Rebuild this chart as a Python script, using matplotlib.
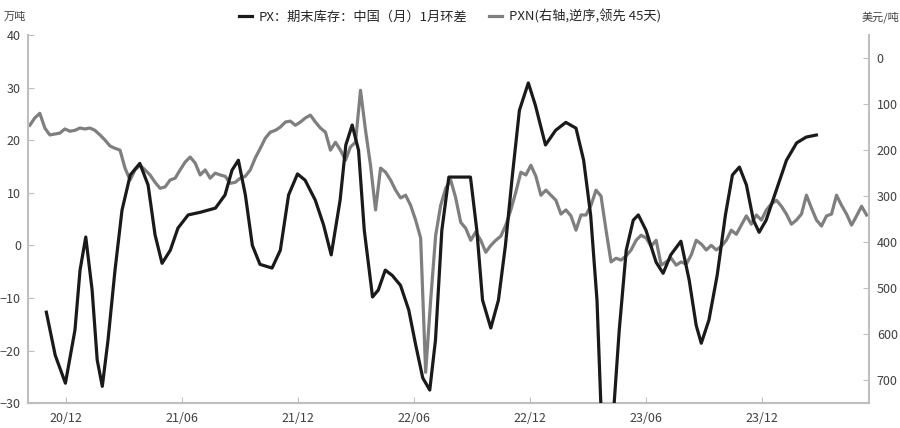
import numpy as np
import pandas as pd
import matplotlib
matplotlib.use("Agg")
import matplotlib.pyplot as plt
import matplotlib.dates as mdates

plt.rcParams['font.family'] = ['Noto Sans CJK SC', 'DejaVu Sans']

# PX: 期末库存 中国(月) 1月环差, 万吨 (left axis)
px_dates = ["2020-10-31", "2020-11-14", "2020-11-30", "2020-12-15", "2020-12-23", "2021-01-01",
            "2021-01-11", "2021-01-19", "2021-01-27", "2021-02-05", "2021-02-16", "2021-02-27",
            "2021-03-12", "2021-03-27", "2021-04-09", "2021-04-20", "2021-05-01", "2021-05-14",
            "2021-05-26", "2021-06-11", "2021-06-30", "2021-07-24", "2021-08-08", "2021-08-19",
            "2021-08-29", "2021-09-09", "2021-09-20", "2021-10-02", "2021-10-21", "2021-11-03",
            "2021-11-16", "2021-11-30", "2021-12-12", "2021-12-28", "2022-01-10", "2022-01-22",
            "2022-02-05", "2022-02-14", "2022-02-24", "2022-03-06", "2022-03-15", "2022-03-28",
            "2022-04-06", "2022-04-17", "2022-04-28", "2022-05-11", "2022-05-24", "2022-06-04",
            "2022-06-15", "2022-06-26", "2022-07-05", "2022-07-15", "2022-07-26", "2022-08-14",
            "2022-08-29", "2022-09-08", "2022-09-17", "2022-09-30", "2022-10-12", "2022-10-23",
            "2022-11-03", "2022-11-14", "2022-11-28", "2022-12-09", "2022-12-25", "2023-01-10",
            "2023-01-26", "2023-02-11", "2023-02-23", "2023-03-06", "2023-03-16", "2023-03-22",
            "2023-04-01", "2023-04-12", "2023-04-20", "2023-05-01", "2023-05-12", "2023-05-20",
            "2023-06-01", "2023-06-17", "2023-06-28", "2023-07-10", "2023-07-26", "2023-08-08",
            "2023-08-19", "2023-08-27", "2023-09-08", "2023-09-21", "2023-10-04", "2023-10-15",
            "2023-10-26", "2023-11-06", "2023-11-17", "2023-11-26", "2023-12-07", "2023-12-23",
            "2024-01-08", "2024-01-24", "2024-02-08", "2024-02-24"]
px_vals = [-12.7, -20.9, -26.2, -16.1, -4.7, 1.6,
           -8.5, -21.8, -26.8, -18.0, -4.7, 6.7,
           13.4, 15.6, 11.5, 2.0, -3.4, -0.9,
           3.3, 5.8, 6.3, 7.1, 9.6, 14.3,
           16.2, 9.6, 0.0, -3.6, -4.3, -0.9,
           9.6, 13.6, 12.4, 8.6, 3.9, -1.8,
           8.6, 19.1, 22.9, 18.1, 2.9, -9.8,
           -8.5, -4.7, -5.7, -7.6, -12.3, -19.0,
           -25.2, -27.5, -18.0, 2.9, 13.0, 13.0,
           13.0, 2.9, -10.4, -15.7, -10.4, 0.0,
           13.4, 25.7, 30.9, 26.7, 19.1, 21.9,
           23.4, 22.3, 16.2, 5.8, -10.4, -30.0,
           -55.0, -30.0, -16.1, -0.9, 4.8, 5.8,
           2.9, -3.2, -5.3, -1.8, 0.8, -6.6,
           -15.2, -18.6, -14.2, -5.7, 5.8, 13.4,
           14.9, 11.5, 4.8, 2.5, 4.8, 10.5,
           16.2, 19.5, 20.6, 21.0]

# PXN (右轴, 逆序, 领先45天), 美元/吨, read on a regular date grid
pxn_start, pxn_end = "2020-10-05", "2024-05-13"
pxn_vals = [146, 130, 120, 152, 167, 165, 163, 154, 159, 157, 152, 154, 152, 157, 167, 178,
            191, 196, 200, 239, 265, 243, 233, 243, 254, 270, 283, 280, 265, 261, 243, 226,
            215, 228, 254, 243, 261, 250, 254, 257, 272, 270, 261, 257, 243, 217, 196, 174,
            161, 157, 150, 139, 137, 146, 139, 130, 124, 139, 152, 161, 200, 183, 200, 222,
            193, 183, 70, 157, 233, 330, 239, 248, 265, 287, 304, 298, 320, 352, 391, 683,
            526, 385, 320, 283, 265, 304, 357, 370, 396, 378, 396, 422, 407, 396, 387, 363,
            330, 291, 248, 254, 233, 257, 298, 287, 298, 309, 339, 330, 343, 374, 341, 341,
            320, 287, 300, 374, 443, 435, 439, 430, 417, 396, 385, 391, 409, 396, 450, 443,
            435, 450, 443, 448, 428, 396, 404, 417, 407, 417, 409, 396, 374, 383, 363, 343,
            361, 341, 352, 330, 317, 309, 322, 339, 361, 352, 339, 298, 326, 352, 365, 343,
            339, 298, 320, 339, 363, 343, 322, 341]

left_ticks = [-30, -20, -10, 0, 10, 20, 30, 40]
right_ticks = [0, 100, 200, 300, 400, 500, 600, 700]
x_ticks = ["2020-12-01", "2021-06-01", "2021-12-01", "2022-06-01", "2022-12-01", "2023-06-01", "2023-12-01"]

px_x = pd.to_datetime(px_dates)
pxn_x = pd.date_range(pxn_start, pxn_end, periods=len(pxn_vals))

fig = plt.figure(figsize=(9, 4.28), dpi=100)
ax = fig.add_axes([0.031, 0.058, 0.934, 0.86])
ax2 = ax.twinx()

ax2.plot(pxn_x, pxn_vals, color="#7f7f7f", lw=2.3, zorder=2, solid_joinstyle="round")
l1, = ax.plot(px_x, px_vals, color="#1a1a1a", lw=2.3, zorder=3, solid_joinstyle="round")
ax.set_zorder(ax2.get_zorder() + 1)
ax.patch.set_visible(False)

ax.set_ylim(-30, 40)
ax2.set_ylim(750, -50)
ax.set_xlim(pd.Timestamp("2020-10-02"), pd.Timestamp("2024-05-16"))
ax.set_yticks(left_ticks)
ax2.set_yticks(right_ticks)
ax.set_xticks(pd.to_datetime(x_ticks))
ax.xaxis.set_major_formatter(mdates.DateFormatter("%y/%m"))

spine_c = "#bfbfbf"
for a in (ax, ax2):
    for s in a.spines.values():
        s.set_color(spine_c)
        s.set_linewidth(1.5)
    a.spines["top"].set_visible(False)
    a.tick_params(colors=spine_c, labelcolor="#404040", labelsize=9, direction="in", length=4)
ax.spines["right"].set_visible(False)
ax2.spines["left"].set_visible(False)
ax.tick_params(axis="y", pad=5)
ax2.tick_params(axis="y", pad=6)
ax.tick_params(axis="x", pad=6)

fig.text(0.017, 0.96, "万吨", fontsize=8, color="#404040", ha="center", va="center")
fig.text(0.978, 0.96, "美元/吨", fontsize=8, color="#404040", ha="center", va="center")

l2 = plt.Line2D([], [], color="#7f7f7f", lw=2.3)
fig.legend([l1, l2], ["PX：期末库存：中国（月）1月环差", "PXN(右轴,逆序,领先 45天)"],
           loc="center", bbox_to_anchor=(0.5, 0.962), ncol=2, frameon=False,
           fontsize=9.5, handlelength=1.0, handletextpad=0.5, columnspacing=1.6,
           labelcolor="#262626")

fig.savefig("out.png", dpi=100)
